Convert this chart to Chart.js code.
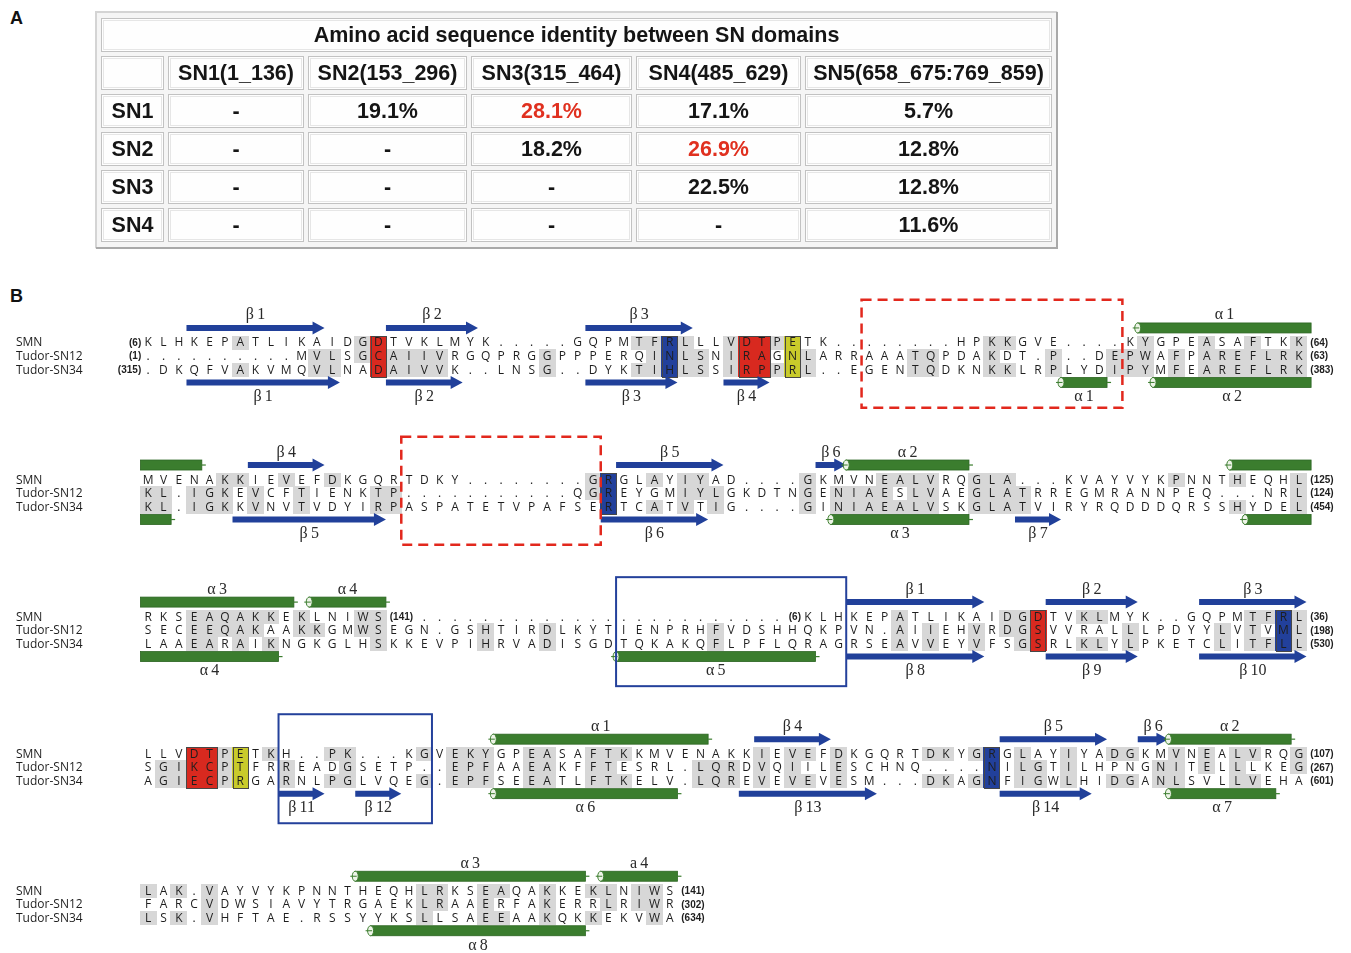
<!DOCTYPE html>
<html lang="en">
<head>
<meta charset="utf-8">
<title>SN domains: identity table and alignment with SMN</title>
<script src="https://cdn.jsdelivr.net/npm/chart.js@4.4.1/dist/chart.umd.min.js"></script>
<style>
  html, body { margin: 0; padding: 0; background: #ffffff; }
  #figure { position: relative; width: 1351px; height: 953px; overflow: hidden; }
  .panel-letter { position: absolute; font: bold 18px "Liberation Sans", Arial, sans-serif; color: #111; }
  #identity { position: absolute; left: 95px; top: 11px; }
  #alignment { position: absolute; left: 0; top: 280px; }
</style>
</head>
<body>
<div id="figure">
  <div class="panel-letter" style="left:10px; top:8px;">A</div>
  <div class="panel-letter" style="left:10px; top:286px;">B</div>
  <canvas id="identity" width="963" height="238"></canvas>
  <canvas id="alignment" width="1351" height="673"></canvas>
</div>
<script>
// ---------- Panel A: pairwise identity between SN domains ----------
const tableTitle = 'Amino acid sequence identity between SN domains';
const domainColumns = ['SN1(1_136)', 'SN2(153_296)', 'SN3(315_464)', 'SN4(485_629)', 'SN5(658_675:769_859)'];
const domainRows = ['SN1', 'SN2', 'SN3', 'SN4'];
const identitySN1 = [null, 19.1, 28.1, 17.1, 5.7];
const identitySN2 = [null, null, 18.2, 26.9, 12.8];
const identitySN3 = [null, null, null, 22.5, 12.8];
const identitySN4 = [null, null, null, null, 11.6];
const highlightedPairs = ['SN1:SN3', 'SN2:SN4'];

// ---------- Panel B: SMN Tudor domain vs Tudor-SN repeats ----------
const sequenceNames = ['SMN', 'Tudor-SN12', 'Tudor-SN34'];
const smnBlocks = [
  'KLHKEPATLIKAIDGDTVKLMYK.....GQPMTFRLLLVDTPETK........HPKKGVE....KYGPEASAFTKK',
  'MVENAKKIEVEFDKGQRTDKY........GRGLAYIYAD....GKMVNEALVRQGLA...KVAYVYKPNNTHEQHL',
  'RKSEAQAKKEKLNIWS' + '  ' + '........................' + ' ' + 'KLHKEPATLIKAIDGDTVKLMYK..GQPMTFRL',
  'LLVDTPETKH..PK...KGVEKYGPEASAFTKKMVENAKKIEVEFDKGQRTDKYGRGLAYIYADGKMVNEALVRQG',
  'LAK.VAYVYKPNNTHEQHLRKSEAQAKKEKLNIWS'
];
const sn12Blocks = [
  '..........MVLSGCAIIVRGQPRGGPPPERQINLSNIRAGNLARRAAATQPDAKDT.P..DEPWAFPAREFLRK',
  'KL.IGKEVCFTIENKTP...........QGREYGMIYLGKDTNGENIAESLVAEGLATRREGMRANNPEQ...NRL',
  'SECEEQAKAAKKGMWSEGN.GSHTIRDLKYTIENPRHFVDSHHQKPVN.AIIEHVRDGSVVRALLLPDYYLVTVML',
  'SGIKCPTFRREADGSETP..EPFAAEAKFFTESRL.LQRDVQIILESCHNQ....NILGTILHPNGNITELLLKEG',
  'FARCVDWSIAVYTRGAEKLRAAERFAKERRLRIWR'
];
const sn34Blocks = [
  '.DKQFVAKVMQVLNADAIVVK..LNSG..DYKTIHLSSIRPPRL..EGENTQDKNKKLRPLYDIPYMFEAREFLRK',
  'KL.IGKKVNVTVDYIRPASPATETVPAFSERTCATVTIG....GINIAEALVSKGLATVIRYRQDDDQRSSHYDEL',
  'LAAEARAIKNGKGLHSKKEVPIHRVADISGDTQKAKQFLPFLQRAGRSEAVVEYVFSGSRLKLYLPKETCLITFLL',
  'AGIECPRGARNLPGLVQEG.EPFSEEATLFTKELV.LQREVEVEVESM...DKAGNFIGWLHIDGANLSVLLVEHA',
  'LSK.VHFTAE.RSSYYKSLLSAEEAAKQKKEKVWA'
];

// residue numbers: [block, line, column, text]
const numbersBefore = [[0, 0, 1, '(6)'], [0, 1, 1, '(1)'], [0, 2, 1, '(315)'], [2, 0, 44, '(6)']];
const numbersAfter = [
  [0, 0, 76, '(64)'], [0, 1, 76, '(63)'], [0, 2, 76, '(383)'],
  [1, 0, 76, '(125)'], [1, 1, 76, '(124)'], [1, 2, 76, '(454)'],
  [2, 0, 16, '(141)'], [2, 0, 76, '(36)'], [2, 1, 76, '(198)'], [2, 2, 76, '(530)'],
  [3, 0, 76, '(107)'], [3, 1, 76, '(267)'], [3, 2, 76, '(601)'],
  [4, 0, 35, '(141)'], [4, 1, 35, '(302)'], [4, 2, 35, '(634)']
];

// similar residues (grey), per block, as column numbers
const smnShaded = [
  [7, 15, 33, 34, 36, 39, 42, 56, 57, 66, 70, 73, 76],
  [6, 7, 10, 13, 30, 34, 36, 37, 44, 49, 50, 51, 52, 55, 56, 57, 68, 72, 76],
  [4, 5, 6, 7, 8, 9, 11, 15, 16, 50, 57, 58, 62, 63, 73, 74, 76],
  [6, 9, 13, 14, 19, 21, 22, 23, 26, 27, 30, 31, 32, 41, 43, 44, 46, 52, 53, 55, 58, 61, 64, 65, 68, 70, 72, 73, 76],
  [1, 3, 5, 19, 20, 23, 24, 27, 30, 31, 33, 34]
];
const sn12Shaded = [
  [12, 13, 15, 17, 18, 19, 20, 27, 34, 36, 37, 39, 44, 51, 52, 56, 60, 64, 65, 66, 68, 70, 71, 72, 73, 74, 75, 76],
  [1, 2, 4, 5, 6, 8, 11, 16, 17, 30, 36, 37, 38, 44, 46, 47, 48, 49, 51, 52, 55, 56, 57, 58, 76],
  [4, 5, 6, 7, 8, 11, 12, 15, 16, 23, 27, 38, 50, 52, 55, 57, 58, 65, 71, 73, 76],
  [2, 3, 6, 10, 14, 21, 22, 23, 26, 27, 30, 31, 37, 38, 39, 41, 43, 46, 58, 59, 61, 67, 68, 70, 72, 76],
  [5, 19, 20, 23, 27, 31, 33, 34]
];
const sn34Shaded = [
  [7, 12, 13, 17, 18, 19, 20, 27, 33, 34, 36, 37, 39, 42, 44, 51, 52, 56, 57, 60, 64, 65, 66, 68, 70, 71, 72, 73, 74, 75, 76],
  [1, 2, 4, 5, 6, 8, 11, 16, 17, 34, 36, 38, 44, 46, 47, 48, 49, 50, 51, 52, 55, 56, 57, 58, 72, 76],
  [4, 5, 7, 9, 16, 23, 27, 38, 50, 52, 55, 58, 62, 63, 65, 71, 73, 74, 76],
  [2, 3, 6, 10, 13, 14, 19, 21, 22, 23, 26, 27, 30, 31, 32, 37, 38, 39, 41, 43, 44, 46, 52, 53, 55, 58, 59, 61, 64, 65, 67, 68, 72, 73],
  [1, 3, 5, 19, 23, 24, 27, 30, 34]
];

// key residues: [block, first column, last column, tone]
const keyResidues = [
  [0, 16, 16, 'red'], [0, 35, 35, 'blue'], [0, 40, 41, 'red'], [0, 43, 43, 'yellow'],
  [1, 31, 31, 'blue'],
  [2, 59, 59, 'red'], [2, 75, 75, 'blue'],
  [3, 4, 5, 'red'], [3, 7, 7, 'yellow'], [3, 56, 56, 'blue']
];

// secondary structure: [block, kind, first column, last column, label]
// kind: E strand, H helix, Hs helix running off the line end, He helix continued from previous line
const smnStructure = [
  [0, 'E', 4, 12, 'β1'], [0, 'E', 17, 22, 'β2'], [0, 'E', 30, 36, 'β3'], [0, 'Hs', 66, 76, 'α1'],
  [1, 'He', 1, 4, ''], [1, 'E', 8, 12, 'β4'], [1, 'E', 32, 38, 'β5'], [1, 'E', 45, 46, 'β6'], [1, 'H', 47, 54, 'α2'], [1, 'Hs', 72, 76, ''],
  [2, 'He', 1, 10, 'α3'], [2, 'H', 12, 16, 'α4'], [2, 'E', 47, 55, 'β1'], [2, 'E', 60, 65, 'β2'], [2, 'E', 70, 76, 'β3'],
  [3, 'H', 24, 37, 'α1'], [3, 'E', 41, 45, 'β4'], [3, 'E', 57, 63, 'β5'], [3, 'E', 66, 67, 'β6'], [3, 'H', 68, 75, 'α2'],
  [4, 'H', 15, 29, 'α3'], [4, 'H', 31, 35, 'a4']
];
const tudorStructure = [
  [0, 'E', 4, 13, 'β1'], [0, 'E', 17, 21, 'β2'], [0, 'E', 30, 35, 'β3'], [0, 'E', 39, 41, 'β4'], [0, 'H', 61, 63, 'α1'], [0, 'Hs', 67, 76, 'α2'],
  [1, 'He', 1, 2, ''], [1, 'E', 7, 16, 'β5'], [1, 'E', 31, 37, 'β6'], [1, 'H', 46, 54, 'α3'], [1, 'E', 58, 60, 'β7'], [1, 'Hs', 73, 76, ''],
  [2, 'He', 1, 9, 'α4'], [2, 'H', 32, 44, 'α5'], [2, 'E', 47, 55, 'β8'], [2, 'E', 60, 65, 'β9'], [2, 'E', 70, 76, 'β10'],
  [3, 'E', 10, 12, 'β11'], [3, 'E', 15, 17, 'β12'], [3, 'H', 24, 35, 'α6'], [3, 'E', 40, 48, 'β13'], [3, 'E', 57, 62, 'β14'], [3, 'H', 68, 74, 'α7'],
  [4, 'H', 16, 29, 'α8']
];

// boxed regions: [block, first column, last column, style]
const regionBoxes = [[0, 48, 64, 'dashed'], [1, 18, 30, 'dashed'], [2, 32, 46, 'solid'], [3, 10, 19, 'solid']];

// ================= layout & styles =================
const TABLE_COL_WIDTHS = [67, 140, 163, 165, 169, 251];
const TABLE_FONT = 'bold 21.5px "Liberation Sans", Arial, sans-serif';

const COL_PX = 15.55;     // pitch of one alignment column
const ROW_PX = 14;        // pitch of one sequence line
const BLOCK_STEP = 10.06; // block spacing, in lines
const FIRST_COL_X = 141;  // canvas x of column 1
const FIRST_LINE_Y = 55;  // canvas y of the first SMN line
const ALN_W = 1351, ALN_H = 673;

const C = {
  grey: '#d7d7d7', red: '#d8291f', blue: '#22409b', yellow: '#c9cb2b',
  strand: '#21409a', helix: '#3b7d2e', helixDark: '#2c6522', dashed: '#e2281d', frame: '#24419b',
  text: '#1e1e1e'
};

// ================= Panel A chart =================
const colEdges = TABLE_COL_WIDTHS.reduce((acc, w) => { acc.push(acc[acc.length - 1] + w); return acc; }, [0]);
const colCenter = j => (colEdges[j] + colEdges[j + 1]) / 2;
const tableRowKeys = ['title', 'header', ...domainRows];
const identityRows = [identitySN1, identitySN2, identitySN3, identitySN4];

const identitySets = identityRows.map((vals, i) => ({
  label: domainRows[i],
  data: vals.map((v, j) => ({
    x: colCenter(j + 1), y: domainRows[i], v,
    hi: highlightedPairs.includes(domainRows[i] + ':' + domainColumns[j].slice(0, 3))
  })),
  pointRadius: 0
}));

const tableGrid = {
  id: 'tableGrid',
  beforeDatasetsDraw(chart) {
    const { ctx } = chart;
    const xs = chart.scales.x, ys = chart.scales.y;
    const band = ys.getPixelForValue(1) - ys.getPixelForValue(0);
    ctx.save();
    // outer frame
    ctx.fillStyle = '#f5f5f5';
    ctx.fillRect(0, 0, chart.width, chart.height);
    ctx.lineWidth = 2;
    ctx.strokeStyle = '#d4d4d4';
    ctx.beginPath(); ctx.moveTo(1, chart.height - 1); ctx.lineTo(1, 1); ctx.lineTo(chart.width - 1, 1); ctx.stroke();
    ctx.strokeStyle = '#a9a9a9';
    ctx.beginPath(); ctx.moveTo(chart.width - 1, 1); ctx.lineTo(chart.width - 1, chart.height - 1); ctx.lineTo(1, chart.height - 1); ctx.stroke();

    const cell = (e0, e1, rowIndex) => {
      const yc = ys.getPixelForValue(rowIndex);
      const x0 = xs.getPixelForValue(e0) + 2, x1 = xs.getPixelForValue(e1) - 2;
      const y0 = yc - band / 2 + 2, y1 = yc + band / 2 - 2;
      ctx.fillStyle = '#fefefe';
      ctx.fillRect(x0, y0, x1 - x0, y1 - y0);
      ctx.lineWidth = 1;
      ctx.strokeStyle = '#c2c2c2';
      ctx.strokeRect(x0 + 0.5, y0 + 0.5, x1 - x0 - 1, y1 - y0 - 1);
      ctx.strokeStyle = '#e6e6e6';
      ctx.strokeRect(x0 + 2.5, y0 + 2.5, x1 - x0 - 5, y1 - y0 - 5);
    };
    cell(colEdges[0], colEdges[colEdges.length - 1], 0);
    tableRowKeys.slice(1).forEach((_, r) => {
      for (let j = 0; j < TABLE_COL_WIDTHS.length; j++) cell(colEdges[j], colEdges[j + 1], r + 1);
    });

    ctx.font = TABLE_FONT;
    ctx.fillStyle = '#151515';
    ctx.textAlign = 'center';
    ctx.textBaseline = 'middle';
    ctx.fillText(tableTitle, xs.getPixelForValue(colEdges[colEdges.length - 1] / 2), ys.getPixelForValue(0) + 1);
    domainColumns.forEach((t, j) => ctx.fillText(t, xs.getPixelForValue(colCenter(j + 1)), ys.getPixelForValue(1) + 1));
    domainRows.forEach((t, i) => ctx.fillText(t, xs.getPixelForValue(colCenter(0)), ys.getPixelForValue(i + 2) + 1));
    ctx.restore();
  },
  afterDatasetsDraw(chart) {
    const { ctx } = chart;
    ctx.save();
    ctx.font = TABLE_FONT;
    ctx.textAlign = 'center';
    ctx.textBaseline = 'middle';
    chart.data.datasets.forEach((ds, i) => {
      chart.getDatasetMeta(i).data.forEach((el, k) => {
        const p = ds.data[k];
        ctx.fillStyle = p.hi ? '#e0301f' : '#151515';
        ctx.fillText(p.v == null ? '-' : p.v.toFixed(1) + '%', el.x, el.y + 1);
      });
    });
    ctx.restore();
  }
};

new Chart(document.getElementById('identity'), {
  type: 'scatter',
  data: { datasets: identitySets },
  options: {
    responsive: false, animation: false, events: [],
    layout: { padding: { left: 4, right: 4, top: 5, bottom: 5 } },
    plugins: { legend: { display: false }, tooltip: { enabled: false } },
    scales: {
      x: { type: 'linear', display: false, min: 0, max: colEdges[colEdges.length - 1] },
      y: { type: 'category', labels: tableRowKeys, display: false, offset: true }
    }
  },
  plugins: [tableGrid]
});

// ================= Panel B chart =================
const lineY = (block, line) => block * BLOCK_STEP + line;
const seqBlocks = [smnBlocks, sn12Blocks, sn34Blocks];
const shadedBlocks = [smnShaded, sn12Shaded, sn34Shaded];

const cellImage = fill => {
  const c = document.createElement('canvas');
  c.width = Math.ceil(COL_PX) + 1;
  c.height = ROW_PX;
  const g = c.getContext('2d');
  g.fillStyle = fill;
  g.fillRect(0, 0, c.width, c.height);
  return c;
};
const cellImages = { grey: cellImage(C.grey), red: cellImage(C.red), blue: cellImage(C.blue), yellow: cellImage(C.yellow) };

const letterSets = seqBlocks.map((blocks, line) => ({
  label: sequenceNames[line],
  data: blocks.flatMap((s, b) => [...s].map((ch, i) => ({ x: i + 1, y: lineY(b, line), ch })).filter(p => p.ch !== ' ')),
  pointRadius: 0,
  order: 0
}));

const shadePoints = shadedBlocks.flatMap((blocks, line) =>
  blocks.flatMap((cols, b) => cols.map(c => ({ x: c, y: lineY(b, line) }))));

const keyPoints = keyResidues.flatMap(([b, c0, c1, tone]) => {
  const pts = [];
  for (let c = c0; c <= c1; c++) for (let line = 0; line < 3; line++) pts.push({ x: c, y: lineY(b, line), tone });
  return pts;
});

const shadeSet = { label: 'similar', data: shadePoints, pointStyle: cellImages.grey, pointRadius: 8, order: 2 };
const keySet = { label: 'key residues', data: keyPoints, pointStyle: ctx => cellImages[ctx.raw.tone], pointRadius: 8, order: 1 };

const greekLabel = t => t.replace(/^(\D+)(\d+)$/, '$1\u2009$2');

const alignmentMarks = {
  id: 'alignmentMarks',
  afterDatasetsDraw(chart) {
    const { ctx } = chart;
    const xs = chart.scales.x, ys = chart.scales.y;
    const X = v => xs.getPixelForValue(v);
    const Y = v => ys.getPixelForValue(v);
    ctx.save();

    // outlines of the key residue columns
    ctx.lineWidth = 1;
    ctx.strokeStyle = '#474747';
    keyResidues.forEach(([b, c0, c1]) => {
      const x0 = X(c0 - 0.5), x1 = X(c1 + 0.5), y0 = Y(lineY(b, -0.5)), y1 = Y(lineY(b, 2.5));
      ctx.strokeRect(Math.round(x0) + 0.5, Math.round(y0) + 0.5, Math.round(x1 - x0), Math.round(y1 - y0));
    });

    // residues
    ctx.font = '12px "Open Sans", "DejaVu Sans", sans-serif';
    ctx.textAlign = 'center';
    ctx.textBaseline = 'middle';
    ctx.fillStyle = C.text;
    letterSets.forEach((ds, i) => {
      chart.getDatasetMeta(i).data.forEach((el, k) => ctx.fillText(ds.data[k].ch, el.x, el.y + 0.5));
    });

    // sequence names
    ctx.textAlign = 'left';
    for (let b = 0; b < smnBlocks.length; b++) {
      sequenceNames.forEach((n, line) => ctx.fillText(n, 16, Y(lineY(b, line)) + 0.5));
    }

    // residue numbers
    ctx.font = 'bold 10px "Liberation Sans", Arial, sans-serif';
    ctx.textAlign = 'right';
    numbersBefore.forEach(([b, line, col, t]) => ctx.fillText(t, X(col - 0.45), Y(lineY(b, line)) + 0.5));
    ctx.textAlign = 'left';
    numbersAfter.forEach(([b, line, col, t]) => ctx.fillText(t, X(col + 0.75), Y(lineY(b, line)) + 0.5));

    // secondary structure
    const strand = (x0, x1, y) => {
      const head = 12;
      ctx.fillStyle = C.strand;
      ctx.beginPath();
      ctx.moveTo(x0, y - 3); ctx.lineTo(x1 - head, y - 3); ctx.lineTo(x1 - head, y - 6.5);
      ctx.lineTo(x1, y); ctx.lineTo(x1 - head, y + 6.5); ctx.lineTo(x1 - head, y + 3); ctx.lineTo(x0, y + 3);
      ctx.closePath(); ctx.fill();
    };
    const helix = (x0, x1, y, kind) => {
      ctx.fillStyle = C.helix;
      ctx.fillRect(x0, y - 5, x1 - x0, 10);
      ctx.strokeStyle = C.helixDark;
      ctx.lineWidth = 0.8;
      ctx.strokeRect(x0, y - 5, x1 - x0, 10);
      if (kind !== 'He') {
        ctx.fillStyle = '#eef4e8';
        ctx.beginPath(); ctx.ellipse(x0, y, 3, 5, 0, 0, Math.PI * 2); ctx.fill();
        ctx.strokeStyle = C.helix; ctx.lineWidth = 1; ctx.stroke();
        ctx.beginPath(); ctx.moveTo(x0 - 5, y); ctx.lineTo(x0 + 1.5, y); ctx.stroke();
      }
      if (kind !== 'Hs') {
        ctx.strokeStyle = C.helix; ctx.lineWidth = 1.2;
        ctx.beginPath(); ctx.moveTo(x1, y); ctx.lineTo(x1 + 4, y); ctx.stroke();
      }
    };
    const drawStructure = (list, shapeOffset, labelOffset) => {
      list.forEach(([b, kind, c0, c1, label]) => {
        const x0 = X(c0 - 0.5), x1 = X(c1 + (kind === 'Hs' ? 0.8 : 0.5)), y = Y(lineY(b, shapeOffset));
        if (kind === 'E') strand(x0, x1, y); else helix(x0, x1, y, kind);
        if (label) {
          ctx.fillStyle = '#2a2a2a';
          ctx.font = '16px "Liberation Serif", "DejaVu Serif", serif';
          ctx.textAlign = 'center';
          ctx.textBaseline = 'middle';
          ctx.fillText(greekLabel(label), (x0 + x1) / 2, Y(lineY(b, labelOffset)));
        }
      });
    };
    drawStructure(smnStructure, -1.07, -2.0);
    drawStructure(tudorStructure, 2.93, 4.0);

    // boxed regions
    regionBoxes.forEach(([b, c0, c1, style]) => {
      const x0 = X(c0 - 0.5), x1 = X(c1 + 0.5);
      if (style === 'dashed') {
        ctx.strokeStyle = C.dashed; ctx.lineWidth = 2.5; ctx.setLineDash([10, 6]);
        const y0 = Y(lineY(b, -3.14)), y1 = Y(lineY(b, 4.79));
        ctx.strokeRect(x0, y0, x1 - x0, y1 - y0);
      } else {
        ctx.strokeStyle = C.frame; ctx.lineWidth = 2; ctx.setLineDash([]);
        const y0 = Y(lineY(b, -2.9)), y1 = Y(lineY(b, 5.1));
        ctx.strokeRect(x0, y0, x1 - x0, y1 - y0);
      }
    });
    ctx.setLineDash([]);
    ctx.restore();
  }
};

const xMinA = 1 - FIRST_COL_X / COL_PX;
const yMinA = -FIRST_LINE_Y / ROW_PX;

new Chart(document.getElementById('alignment'), {
  type: 'scatter',
  data: { datasets: [...letterSets, keySet, shadeSet] },
  options: {
    responsive: false, animation: false, events: [],
    layout: { padding: 0 },
    plugins: { legend: { display: false }, tooltip: { enabled: false } },
    scales: {
      x: { type: 'linear', display: false, min: xMinA, max: xMinA + ALN_W / COL_PX },
      y: { type: 'linear', display: false, reverse: true, min: yMinA, max: yMinA + ALN_H / ROW_PX }
    }
  },
  plugins: [alignmentMarks]
});
</script>
</body>
</html>
